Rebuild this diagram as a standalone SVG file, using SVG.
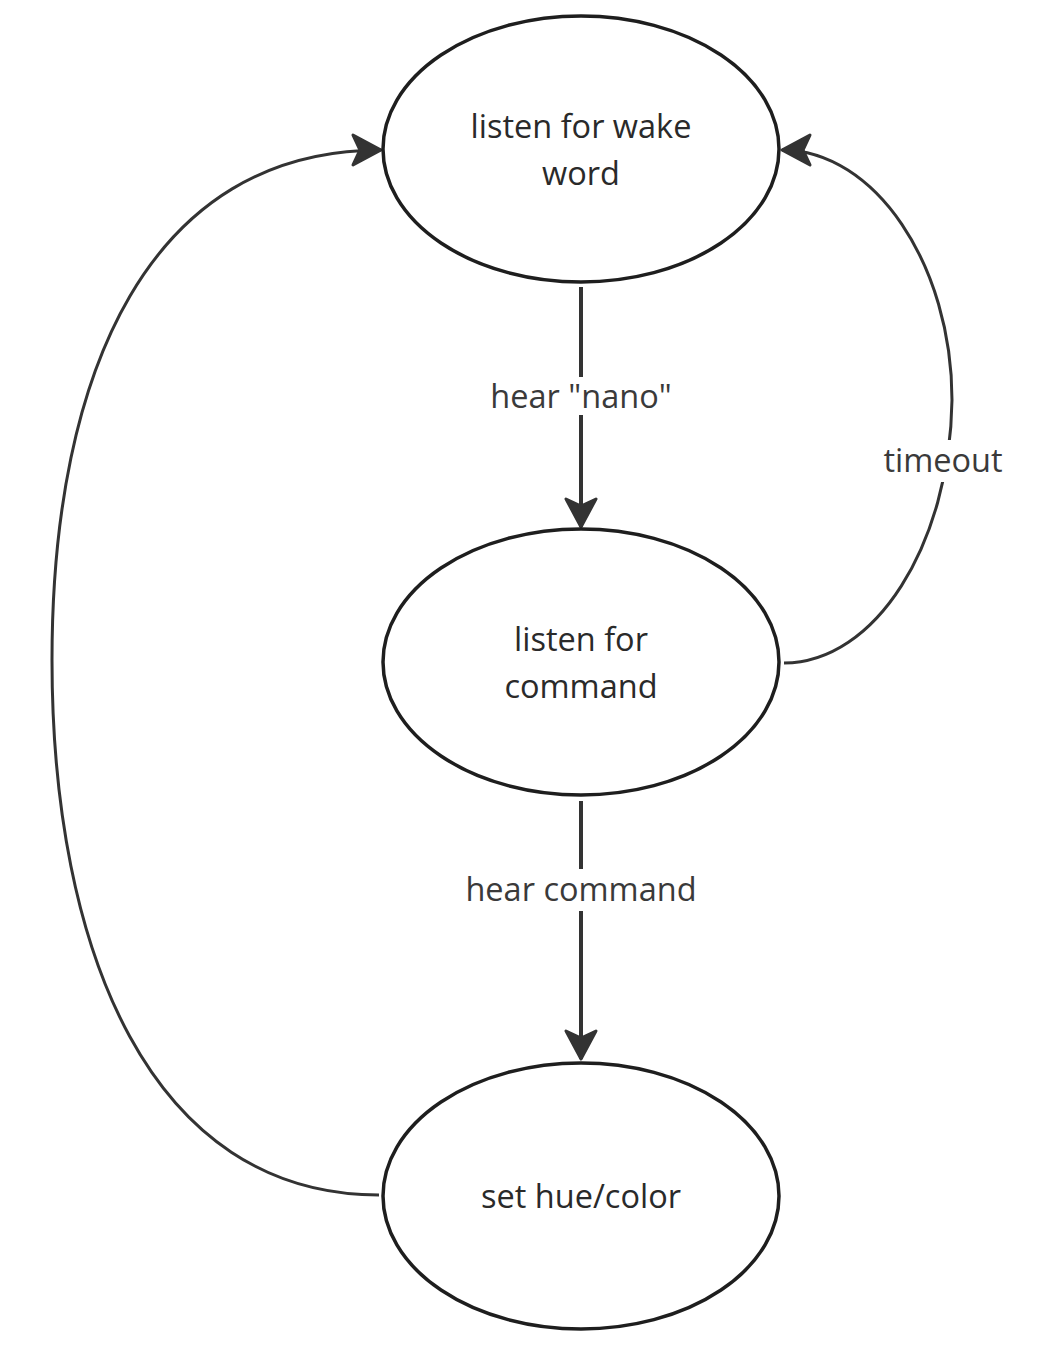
<svg xmlns="http://www.w3.org/2000/svg" width="1046" height="1348" viewBox="0 0 1046 1348">
  <style>
    .node { fill: #ffffff; stroke: #1e1e1e; stroke-width: 3.5; }
    .ntext { font-family: "Open Sans", "Noto Sans", sans-serif; font-size: 32.5px; fill: #2a2a2a; text-anchor: middle; }
    .ltext { font-family: "Open Sans", "Noto Sans", sans-serif; font-size: 32.5px; fill: #3a3a3a; text-anchor: middle; }
    .edge { fill: none; stroke: #333333; stroke-width: 3; }
    .edge.straight { stroke-width: 4; }
    .lbg { fill: #ffffff; }
  </style>
  <defs>
    <marker id="arr" markerUnits="userSpaceOnUse" markerWidth="40" markerHeight="40" viewBox="-34 -20 38 40" refX="0" refY="0" orient="auto">
      <path d="M0,0 L-28,-15 L-21,0 L-28,15 Z" fill="#333333" stroke="#333333" stroke-width="3" stroke-linejoin="round"/>
    </marker>
  </defs>
  <rect width="1046" height="1348" fill="#ffffff"/>

  <g id="connectors">
    <path class="edge straight" d="M581,287 L581,527" marker-end="url(#arr)"/>
    <path class="edge straight" d="M581,801 L581,1059" marker-end="url(#arr)"/>
    <path class="edge" d="M784,663 C875,663 950,545 952,400 C952,265 875,150 782,150" marker-end="url(#arr)"/>
    <path class="edge" d="M379,1195 C150,1195 52,950 52,660 C52,370 150,150 381,150" marker-end="url(#arr)"/>
    <g id="label-nano">
      <rect class="lbg" x="486" y="377" width="190" height="38"/>
      <text class="ltext" x="581" y="408">hear "nano"</text>
    </g>
    <g id="label-command">
      <rect class="lbg" x="460" y="869" width="242" height="42"/>
      <text class="ltext" x="581" y="901">hear command</text>
    </g>
    <g id="label-timeout">
      <rect class="lbg" x="878" y="440" width="130" height="42"/>
      <text class="ltext" x="943" y="472">timeout</text>
    </g>
  </g>

  <g id="node-wake">
    <ellipse class="node" cx="581" cy="149" rx="198" ry="133"/>
    <text class="ntext" x="581" y="138">listen for wake</text>
    <text class="ntext" x="581" y="185">word</text>
  </g>
  <g id="node-command">
    <ellipse class="node" cx="581" cy="662" rx="198" ry="133"/>
    <text class="ntext" x="581" y="651">listen for</text>
    <text class="ntext" x="581" y="698">command</text>
  </g>
  <g id="node-color">
    <ellipse class="node" cx="581" cy="1196" rx="198" ry="133"/>
    <text class="ntext" x="581" y="1208">set hue/color</text>
  </g>
</svg>
